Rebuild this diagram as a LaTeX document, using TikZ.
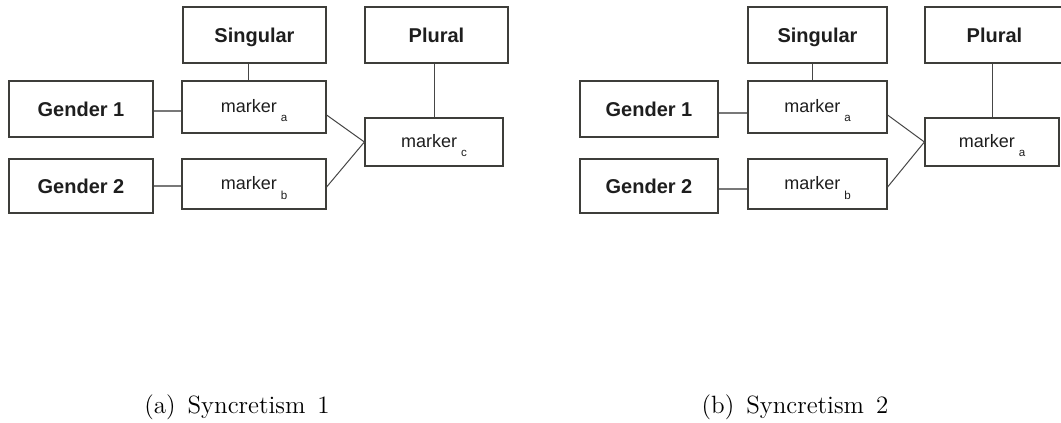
\documentclass[tikz,border=0pt]{standalone}
\usepackage{fontspec}
\setmainfont{Latin Modern Roman}
\newfontfamily\arialfont{Liberation Sans}
\definecolor{boxline}{RGB}{62,62,58}
\definecolor{linkline}{RGB}{70,70,70}
\definecolor{softlink}{RGB}{120,120,120}
\definecolor{inktext}{RGB}{30,30,30}
\newcommand{\mk}[1]{marker\kern2pt\raisebox{-5pt}{\fontsize{5.8}{6}\selectfont #1}}
\newcommand{\captionfont}{\fontsize{12.5}{15}\selectfont\spaceskip 6pt\relax}
\begin{document}
\begin{tikzpicture}[x=0.5pt,y=-0.5pt,
  box/.style={draw=boxline, line width=0.6pt, inner sep=0pt, text=inktext},
  boldbox/.style={box, font=\arialfont\bfseries\fontsize{10}{12}\selectfont,
               text height=7.3pt, text depth=0pt},
  markerbox/.style={box, font=\arialfont\fontsize{9}{11}\selectfont,
               text height=9pt, text depth=4pt},
  link/.style={draw=linkline, line width=0.5pt},
  soft/.style={draw=softlink, line width=0.7pt},
  capt/.style={anchor=base, inner sep=0pt, font=\captionfont}]
\useasboundingbox (0,0) rectangle (1061,423);
\clip (0,0) rectangle (1061,423);

% ---- (a) Syncretism 1 ----
\node[boldbox, minimum width=71.5pt, minimum height=28pt] (sing) at (254.5,35) {Singular};
\node[boldbox, minimum width=71.5pt, minimum height=28pt] (plur) at (436.5,35) {Plural};
\node[boldbox, minimum width=72pt, minimum height=28pt] (ga) at (81,109) {Gender 1};
\node[boldbox, minimum width=72pt, minimum height=27pt] (gb) at (81,186) {Gender 2};
\node[markerbox, minimum width=72pt, minimum height=26pt] (ma) at (254,107) {\mk{a}};
\node[markerbox, minimum width=72pt, minimum height=25pt] (mb) at (254,184) {\mk{b}};
\node[markerbox, minimum width=69pt, minimum height=24pt] (mc) at (434,142) {\mk{c}};

\draw[link] ([xshift=-3pt]sing.south) -- ([xshift=-3pt]sing.south |- ma.north);
\draw[link] (mc.north |- plur.south) -- (mc.north);
\draw[soft] ([yshift=-1pt]ga.east) -- ([yshift=-1pt]ga.east -| ma.west);
\draw[soft] (gb.east) -- (gb.east -| mb.west);
\draw[link] ([yshift=-4pt]ma.east) -- (mc.west);
\draw[link] ([yshift=-1.5pt]mb.east) -- (mc.west);

\node[capt] (capa) at (237,413) {(a) Syncretism 1};

% ---- (b) Syncretism 2 ----
\node[boldbox, minimum width=69.5pt, minimum height=28pt] (sing2) at (817.5,35) {Singular};
\node[boldbox, minimum width=69.5pt, minimum height=28pt] (plur2) at (994.5,35) {Plural};
\node[boldbox, minimum width=69pt, minimum height=28pt] (ga2) at (649,109) {Gender 1};
\node[boldbox, minimum width=69pt, minimum height=27pt] (gb2) at (649,186) {Gender 2};
\node[markerbox, minimum width=69.5pt, minimum height=26pt] (ma2) at (817.5,107) {\mk{a}};
\node[markerbox, minimum width=69.5pt, minimum height=25pt] (mb2) at (817.5,184) {\mk{b}};
\node[markerbox, minimum width=67pt, minimum height=24pt] (mc2) at (992,142) {\mk{a}};

\draw[link] ([xshift=-2.75pt]sing2.south) -- ([xshift=-2.75pt]sing2.south |- ma2.north);
\draw[link] (mc2.north |- plur2.south) -- (mc2.north);
\draw[soft] ([yshift=-2pt]ga2.east) -- ([yshift=-2pt]ga2.east -| ma2.west);
\draw[soft] ([yshift=-1.5pt]gb2.east) -- ([yshift=-1.5pt]gb2.east -| mb2.west);
\draw[link] ([yshift=-4pt]ma2.east) -- (mc2.west);
\draw[link] ([yshift=-1.5pt]mb2.east) -- (mc2.west);

\node[capt] (capb) at (795,413) {(b) Syncretism 2};
\end{tikzpicture}
\end{document}
